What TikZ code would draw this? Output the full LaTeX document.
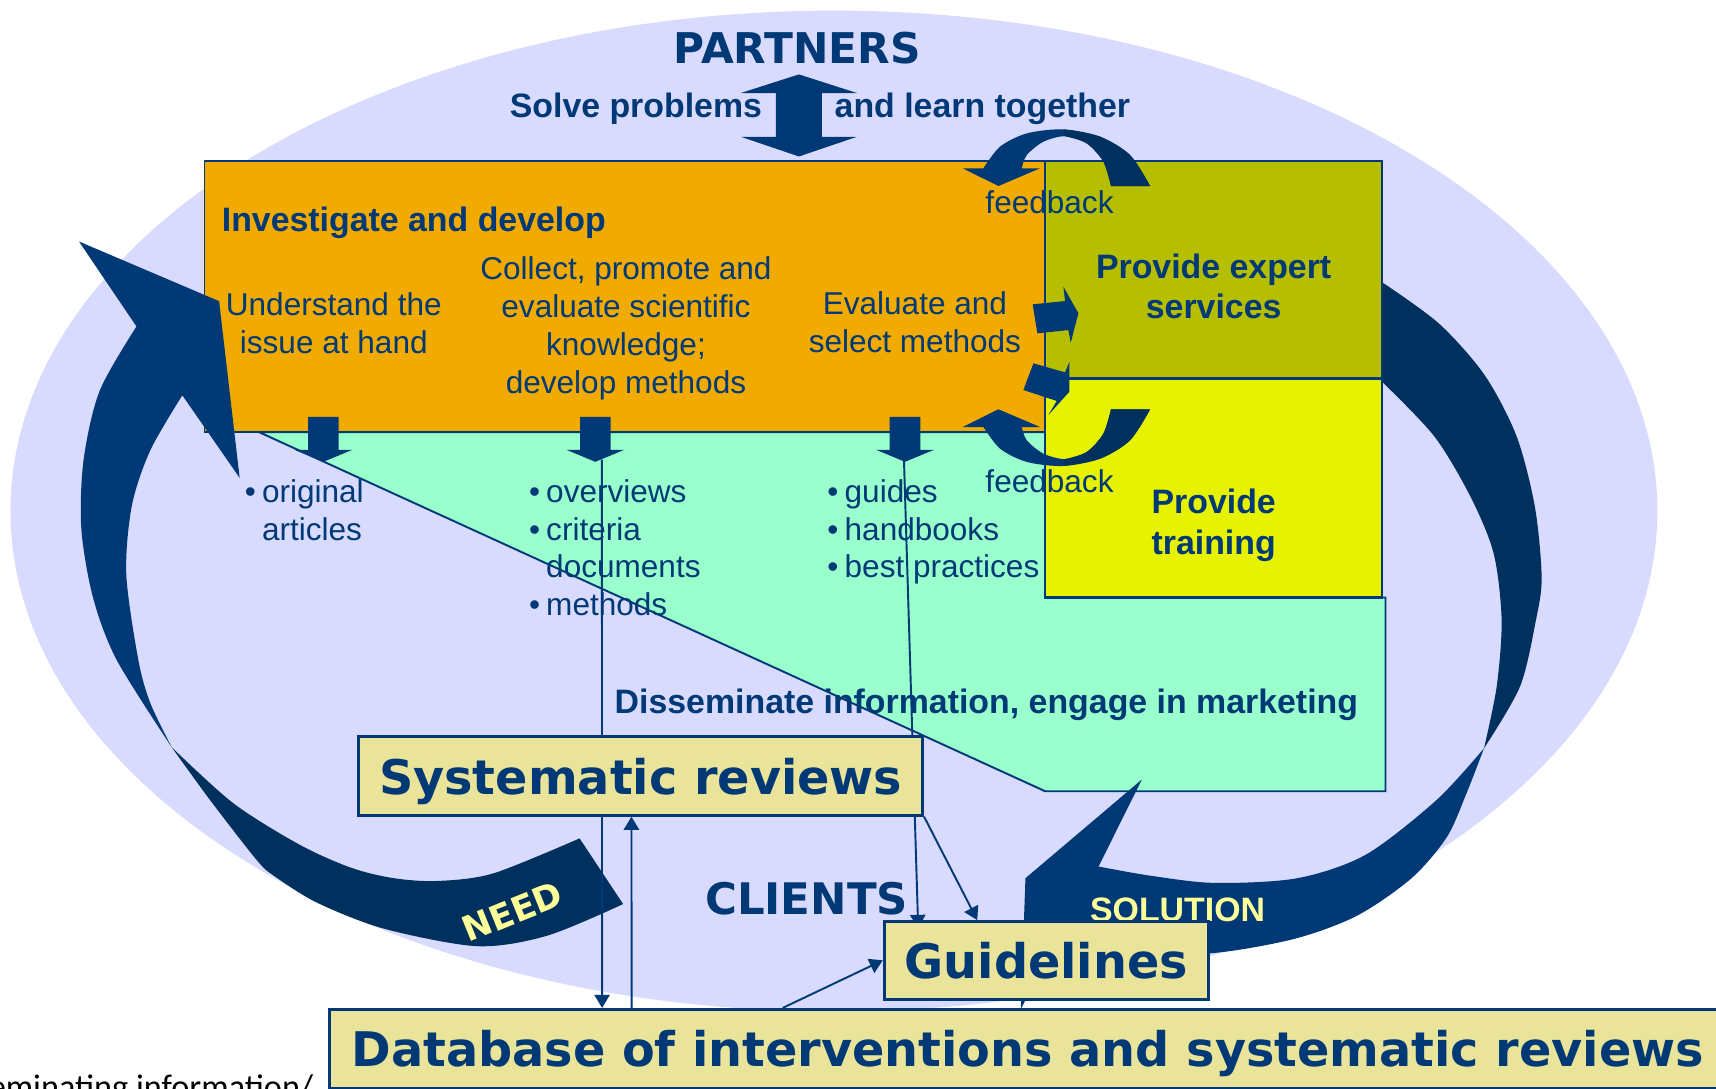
\documentclass[tikz,border=0pt]{standalone}
\usepackage{fontspec}
\setmainfont{Liberation Sans}
\newfontfamily\verdanafont{DejaVu Sans}
\newfontfamily\calibrifont{Carlito}
\usetikzlibrary{arrows.meta}

\definecolor{deepblue}{RGB}{0,57,117}
\definecolor{nightblue}{RGB}{0,48,94}
\definecolor{lavender}{RGB}{217,219,254}
\definecolor{investorange}{RGB}{240,170,0}
\definecolor{expertolive}{RGB}{181,190,0}
\definecolor{trainyellow}{RGB}{230,242,0}
\definecolor{mintgreen}{RGB}{153,255,204}
\definecolor{boxkhaki}{RGB}{233,228,153}
\definecolor{paleyellow}{RGB}{255,255,153}

\newcommand{\feedbackarrow}{%
  \fill[deepblue] (879.7,153.8) -- (912.3,170) -- (950.3,153.8)
    -- plot[smooth] coordinates {(933.6,153.8) (938.2,141.7) (953.4,129.5) (973.2,124.5) (993,131) (1008.2,147.7) (1015.2,170)}
    -- plot[smooth] coordinates {(1050.9,170) (1032.6,141.7) (1005.2,124.9) (971.7,118.2) (938.2,121.9) (913.8,134) (898.6,153.8)}
    -- cycle;
  \fill[nightblue] plot[smooth] coordinates {(971.7,118.2) (1005.2,124.9) (1032.6,141.7) (1050.9,170)}
    -- plot[smooth] coordinates {(1015.2,170) (1008.2,147.7) (993,131) (973.2,124.5)}
    -- cycle;
}

\begin{document}
\begin{tikzpicture}[x=0.01cm, y=-0.01cm,
    every node/.style={inner sep=0pt, text=deepblue},
    plain/.style={font=\fontsize{8.2}{9.9}\selectfont, align=center},
    strong/.style={font=\fontsize{8.8}{10.5}\selectfont\bfseries, align=center},
    heading/.style={font=\verdanafont\fontsize{11}{13}\selectfont\bfseries},
    bigbox/.style={draw=deepblue, line width=0.7pt, fill=boxkhaki, text depth=0pt,
                   font=\verdanafont\fontsize{12.4}{14}\selectfont\bfseries},
    bullets/.style={font=\fontsize{8.2}{9.75}\selectfont, anchor=base west},
    link/.style={draw=deepblue, line width=0.5pt},
    conn/.style={link, -{Triangle[length=1.2mm, width=1.4mm]}}]
    \useasboundingbox (0,0) rectangle (1568,995);
    \clip (0,0) rectangle (1568,995);

    \fill[lavender] (762,467) ellipse [x radius=7.52cm, y radius=4.57cm];

    \filldraw[fill=mintgreen, draw=deepblue, line width=0.5pt]
        (237,395) -- (955,395) -- (955,546) -- (1266,546) -- (1266,723) -- (955,723) -- cycle;
    \filldraw[fill=investorange, draw=deepblue, line width=0.4pt] (187,147) rectangle (955,395);

    % NEED
    \fill[deepblue] (72.2,220.7) -- (200.2,275.2) -- (219,436.7)
        -- plot[smooth] coordinates {(166.6,361.2) (137.3,411.6) (120.5,462) (115.4,524.9) (126.4,603) (137.3,642.3) (156.9,682.8)}
        -- plot[smooth] coordinates {(156.9,682.8) (106.6,603) (85,546) (74.3,483) (76.4,420) (91.1,357) (124.7,298.3)}
        -- cycle;
    \fill[nightblue] plot[smooth] coordinates {(156.9,682.8) (191.9,731) (234.5,785.8) (250.6,800.5) (290,825) (350.9,848.6) (436,864.6) (500,855) (569.4,826.1)}
        -- plot[smooth] coordinates {(529.6,766.1) (451,798) (400,805) (360,802.5) (321,793) (274,772) (213.2,734) (156.9,682.8)}
        -- cycle;

    % SOLUTION
    \fill[nightblue] plot[smooth] coordinates {(1263,258) (1314.8,295.6) (1356.6,342.8) (1385.8,398.7) (1402.5,463.1) (1408.7,527.5) (1403.5,566.5) (1388.9,627.4) (1356,683.8)}
        -- plot[smooth] coordinates {(1356,683.8) (1367.6,627.4) (1372.1,566.5) (1364.9,506) (1344,454.5) (1310.6,398.7) (1263,349)}
        -- cycle;
    \fill[deepblue] (1043.4,712.3) -- (937,802.5) -- (932.8,922)
        -- plot[smooth] coordinates {(973.7,842.8) (1040,866) (1104,871.2) (1181.2,858.3) (1239.7,836.9) (1289.8,802.5) (1322,765) (1340,725) (1356,683.8)}
        -- plot[smooth] coordinates {(1356,683.8) (1312.7,731) (1248,781) (1185.4,802.5) (1110.2,806.8) (1051.8,800.3) (1003.8,791.8)}
        -- cycle;

    \filldraw[fill=expertolive, draw=deepblue, line width=0.6pt] (955,147) rectangle (1263,346);
    \filldraw[fill=trainyellow, draw=deepblue, line width=0.6pt] (955,346) rectangle (1263,546);

    \fill[deepblue] (730,68) -- (783,85) -- (751,85) -- (751,125) -- (783,125) -- (730,143)
        -- (677,125) -- (709,125) -- (709,85) -- (677,85) -- cycle;

    \foreach \x/\name in {295.5/tipa, 544/tipb, 827/tipc} {
        \fill[deepblue] (\x-14,381) -- (\x+14,381) -- (\x+14,411) -- (\x+26.5,411)
            -- (\x,422) -- (\x-26.5,411) -- (\x-14,411) -- cycle;
        \coordinate (\name) at (\x,422);
    }

    \fill[deepblue] (943.6,278.1) -- (973.2,275.1) -- (971.7,262) -- (985.4,286.3)
        -- (978.4,313.1) -- (976.2,301.6) -- (947.9,304.6) -- cycle;
    \fill[deepblue] (944.3,332) -- (973.2,340.3) -- (977.2,330.5) -- (977.2,357.9)
        -- (958,379.2) -- (965.6,366.4) -- (935.1,356.4) -- cycle;

    \feedbackarrow
    \begin{scope}[shift={(0,544)}, yscale=-1]
        \feedbackarrow
    \end{scope}

    \node[heading] (partners) at (728.6,44) {PARTNERS};
    \node[strong, anchor=east] (solve) at (697,99.4) {Solve problems};
    \node[strong, anchor=west] (learn) at (762,99.4) {and learn together};
    \node[strong, anchor=west] (investigate) at (202,204) {Investigate and develop};
    \node[plain] (understand) at (305,295) {Understand the\\issue at hand};
    \node[plain] (collect) at (572,300) {Collect, promote and\\evaluate scientific\\knowledge;\\develop methods};
    \node[plain] (evaluate) at (836,294.5) {Evaluate and\\select methods};
    \node[strong] (expert) at (1109,261.7) {Provide expert\\services};
    \node[strong] (training) at (1109,480) {Provide\\training};
    \node[plain] (fbtop) at (959,185) {feedback};
    \node[plain] (fbbottom) at (959,439.7) {feedback};
    \node[bullets] (articles) at (223,459.3) {\begin{tabular}[t]{@{}l@{\hspace{1.6pt}}l@{}}
        \textbullet & original\\ & articles\end{tabular}};
    \node[bullets] (overviews) at (482.7,459.3) {\begin{tabular}[t]{@{}l@{\hspace{1.6pt}}l@{}}
        \textbullet & overviews\\ \textbullet & criteria\\ & documents\\ \textbullet & methods\end{tabular}};
    \node[bullets] (guides) at (755.4,459.3) {\begin{tabular}[t]{@{}l@{\hspace{1.6pt}}l@{}}
        \textbullet & guides\\ \textbullet & handbooks\\ \textbullet & best practices\end{tabular}};
    \node[strong, anchor=west] (disseminate) at (561,644) {Disseminate information, engage in marketing};
    \node[heading, font=\verdanafont\fontsize{11.3}{13}\selectfont\bfseries] (clients) at (737,821.6) {CLIENTS};
    \node[font=\verdanafont\fontsize{9}{10}\selectfont\bfseries, text=paleyellow, rotate=22] (need) at (468,833) {NEED};
    \node[font=\fontsize{8.8}{10}\selectfont\bfseries, text=paleyellow] (solution) at (1076,831.5) {SOLUTION};

    \node[bigbox, anchor=north west, minimum height=0.72cm, inner xsep=0.2cm] (db) at (300,921)
        {Database of interventions and systematic reviews};
    \coordinate (revtop) at (550,420);
    \coordinate (guidetop) at (826,420);
    \coordinate (guidein) at (839,848);
    \draw[conn] (revtop) -- ([xshift=2.5cm]db.north west);
    \draw[conn] (guidetop) -- (guidein);
    \node[bigbox, minimum width=5.15cm, minimum height=0.72cm] (sr) at (585.5,709) {Systematic reviews};
    \node[bigbox, minimum width=2.96cm, minimum height=0.71cm] (gl) at (956,877.5) {Guidelines};
    \draw[conn] ([xshift=2.77cm]db.north west) -- ([xshift=-0.085cm]sr.south);
    \draw[conn] (sr.south east) -- ([xshift=-0.63cm]gl.north);
    \draw[conn] ([xshift=4.15cm]db.north west) -- (gl.west);

    \node[font=\calibrifont\fontsize{8.9}{10}\selectfont, text=black, anchor=base east] (dissinfo) at (287,1004)
        {Disseminating information/};
\end{tikzpicture}
\end{document}
